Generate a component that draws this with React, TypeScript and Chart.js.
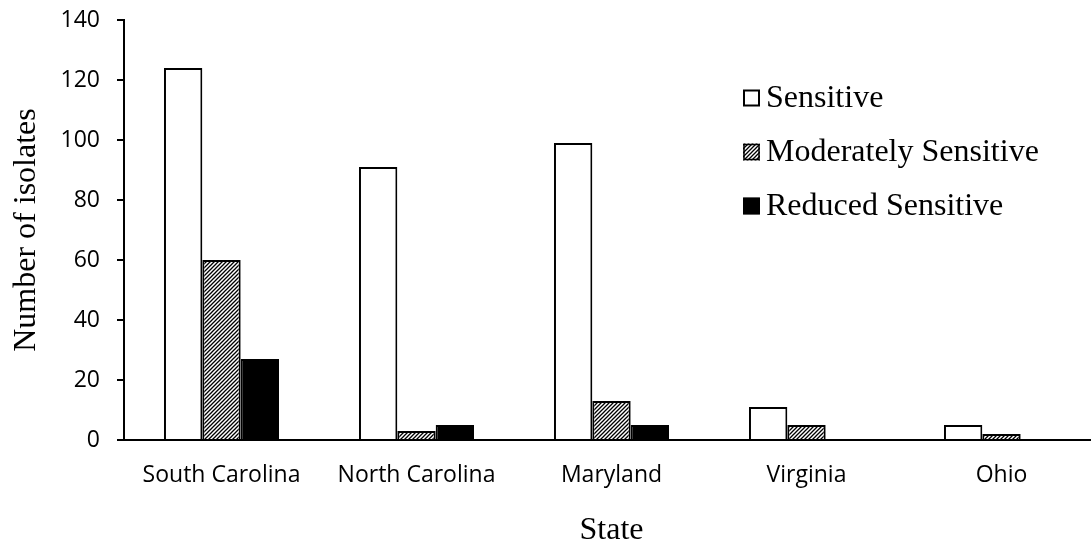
import React, { useEffect, useRef } from "react";
import { Chart, registerables } from "chart.js";

Chart.register(...registerables);

const categories = ["South Carolina", "North Carolina", "Maryland", "Virginia", "Ohio"];
const seriesNames = ["Sensitive", "Moderately Sensitive", "Reduced Sensitive"];
const sensitive = [124, 91, 99, 11, 5];
const moderately = [60, 3, 13, 5, 2];
const reduced = [27, 5, 5, 0, 0];
const yTicks = [0, 20, 40, 60, 80, 100, 120, 140];

function makeHatch(): CanvasPattern | string {
  const c = document.createElement("canvas");
  c.width = 4;
  c.height = 4;
  const g = c.getContext("2d");
  if (!g) return "#888";
  g.fillStyle = "#ffffff";
  g.fillRect(0, 0, 4, 4);
  g.strokeStyle = "#000000";
  g.lineWidth = 1.3;
  g.beginPath();
  g.moveTo(-1, 5);
  g.lineTo(5, -1);
  g.moveTo(-1, 1);
  g.lineTo(1, -1);
  g.moveTo(3, 5);
  g.lineTo(5, 3);
  g.stroke();
  const p = g.createPattern(c, "repeat");
  return p || "#888";
}

const serif = '"Liberation Serif", "Times New Roman", serif';
const sans = '"Open Sans", sans-serif';

export default function App() {
  const ref = useRef<HTMLCanvasElement | null>(null);

  useEffect(() => {
    const canvas = ref.current;
    if (!canvas) return;
    const hatch = makeHatch();
    const fills: any[] = ["#ffffff", hatch, "#000000"];

    const legendPlugin = {
      id: "customLegend",
      afterDraw(chart: any) {
        const ctx = chart.ctx;
        const x0 = 743;
        const ys = [98, 152, 206];
        const box = 17;
        ctx.save();
        ctx.font = "32px " + serif;
        ctx.textBaseline = "middle";
        ctx.textAlign = "left";
        chart.data.datasets.forEach((ds: any, i: number) => {
          const y = ys[i];
          ctx.fillStyle = fills[i];
          ctx.fillRect(x0, y - box / 2, box, box);
          ctx.strokeStyle = "#000";
          ctx.lineWidth = i === 0 ? 2 : 1.5;
          ctx.strokeRect(x0 + 1, y - box / 2 + 1, box - 2, box - 2);
          ctx.fillStyle = "#000";
          ctx.fillText(ds.label, x0 + box + 6, y + 1);
        });
        ctx.restore();
      },
    };

    const chart = new Chart(canvas, {
      type: "bar",
      data: {
        labels: categories,
        datasets: [
          { label: seriesNames[0], data: sensitive, backgroundColor: fills[0] },
          { label: seriesNames[1], data: moderately, backgroundColor: fills[1] },
          { label: seriesNames[2], data: reduced, backgroundColor: fills[2] },
        ].map((d) => ({
          ...d,
          borderColor: "#000000",
          borderWidth: 2,
          categoryPercentage: 0.59,
          barPercentage: 1,
        })),
      },
      options: {
        responsive: false,
        animation: false,
        devicePixelRatio: 1,
        layout: { padding: { top: 20, right: 1, bottom: 0, left: 0 } },
        plugins: {
          legend: { display: false },
          tooltip: { enabled: false },
        },
        scales: {
          x: {
            grid: { display: false, drawTicks: false },
            border: { display: true, color: "#000", width: 2 },
            ticks: {
              color: "#000",
              padding: 22,
              maxRotation: 0,
              font: { family: sans, size: 23 },
            },
            title: {
              display: true,
              text: "State",
              color: "#000",
              font: { family: serif, size: 32, lineHeight: 1 },
              padding: { top: 0, bottom: -2 },
            },
            afterFit(scale: any) {
              scale.height = 105;
              scale.paddingLeft = 0;
              scale.paddingRight = 0;
            },
          },
          y: {
            min: 0,
            max: 140,
            afterBuildTicks(scale: any) {
              scale.ticks = yTicks.map((v) => ({ value: v }));
            },
            grid: {
              display: true,
              drawOnChartArea: false,
              drawTicks: true,
              tickLength: 7,
              color: "#000",
              lineWidth: 2,
            },
            border: { display: true, color: "#000", width: 2 },
            ticks: {
              color: "#000",
              padding: 17,
              font: { family: sans, size: 23 },
            },
            title: {
              display: true,
              text: "Number of isolates",
              color: "#000",
              font: { family: serif, size: 32, lineHeight: 1 },
              padding: { top: 11, bottom: 0 },
            },
            afterFit(scale: any) {
              scale.width = 124;
              scale.paddingTop = 0;
              scale.paddingBottom = 0;
            },
          },
        },
      },
      plugins: [legendPlugin],
    });
    return () => chart.destroy();
  }, []);

  return (
    <div
      style={{
        position: "fixed",
        left: 0,
        top: 0,
        width: 1091,
        height: 545,
        overflow: "hidden",
        background: "#fff",
      }}
    >
      <canvas ref={ref} width={1100} height={545} style={{ display: "block" }} />
    </div>
  );
}
